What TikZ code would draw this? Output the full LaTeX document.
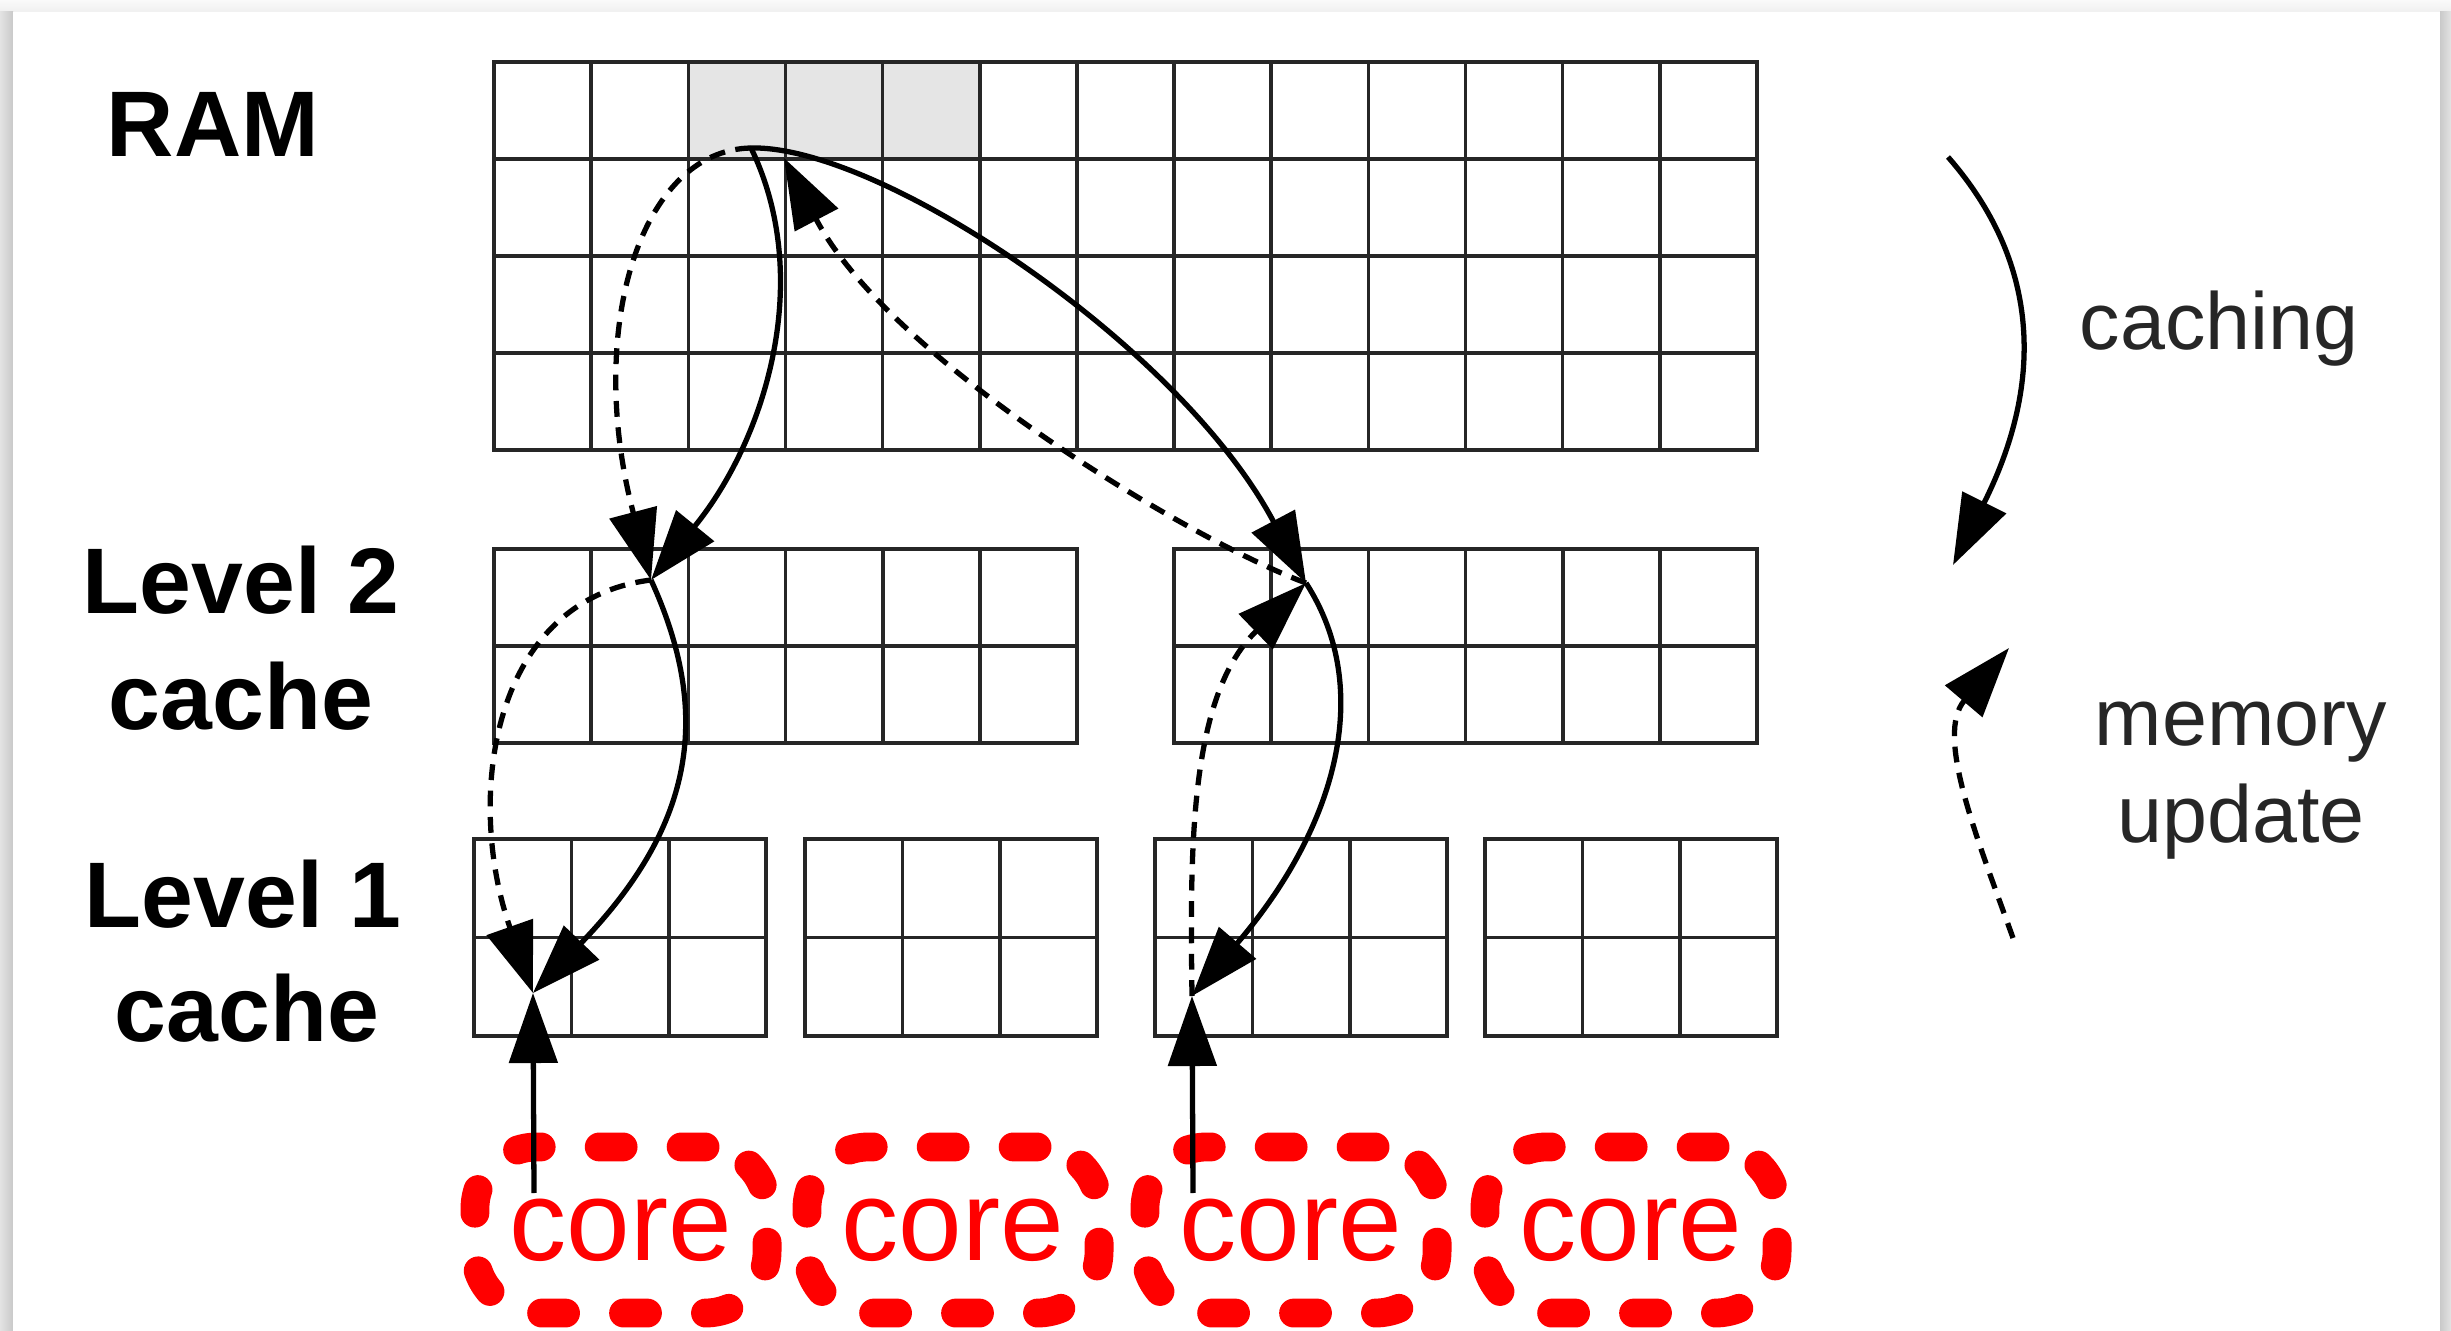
\documentclass[tikz,border=0pt]{standalone}
\usepackage{fontspec}
\setmainfont{Liberation Sans}
\usetikzlibrary{arrows.meta}
\newcommand\cellgrid[6]{% x0, y0, cols, rows, cell width, cell height
  \draw[gridline] (#1,#2) rectangle ({#1+#3*#5},{#2+#4*#6});
  \foreach \i in {1,...,#3}{\draw[gridline] ({#1+\i*#5},#2) -- ({#1+\i*#5},{#2+#4*#6});}
  \foreach \j in {1,...,#4}{\draw[gridline] (#1,{#2+\j*#6}) -- ({#1+#3*#5},{#2+\j*#6});}
}
\tikzset{
  gridline/.style={draw=black!85, line width=1pt},
  flow/.style={draw=black, line width=1.5pt, -{Triangle[length=0.7cm,width=0.48cm]}},
  upd/.style={flow, dash pattern=on 4.5pt off 3pt},
  corebox/.style={draw=red, line width=8.2pt, dash pattern=on 6.8pt off 16.5pt, line cap=round,
    rounded corners=0.62cm, minimum width=2.92cm, minimum height=1.66cm, inner sep=0pt,
    text=red, font=\fontsize{32.5}{38}\selectfont},
  lbl/.style={font=\fontsize{26.5}{31}\selectfont\bfseries, inner sep=0pt, anchor=base},
  leg/.style={font=\fontsize{23}{27}\selectfont, text=black!85, inner sep=0pt, anchor=base},
}
\begin{document}
\begin{tikzpicture}[x=0.01cm,y=-0.01cm]
\useasboundingbox (0,0) rectangle (2451,1331);
% slide background with shadow
\fill[gray!10] (0,0) rectangle (2451,1331);
\shade[top color=gray!4, bottom color=gray!12] (0,0) rectangle (2451,12);
\shade[left color=gray!22, right color=gray!42] (0,12) rectangle (13,1331);
\shade[left color=gray!42, right color=gray!22] (2440,12) rectangle (2451,1331);
\fill[white] (13,12) rectangle (2440,1331);

% RAM
\fill[gray!20] (689,62) rectangle (981,159);
\cellgrid{494}{62}{13}{4}{97.15}{97}
% Level 2 caches
\cellgrid{494}{549}{6}{2}{97.2}{97}
\cellgrid{1174}{549}{6}{2}{97.2}{97}
% Level 1 caches
\cellgrid{474}{839}{3}{2}{97.4}{98.5}
\cellgrid{805}{839}{3}{2}{97.4}{98.5}
\cellgrid{1155}{839}{3}{2}{97.4}{98.5}
\cellgrid{1485}{839}{3}{2}{97.4}{98.5}

% labels
\node[lbl] (ram) at (213,157) {RAM};
\node[lbl] (l2ta) at (241,614) {Level 2};
\node[lbl] (l2tb) at (241,730) {cache};
\node[lbl] (l1ta) at (243,927) {Level 1};
\node[lbl] (l1tb) at (247,1041) {cache};
\node[leg] (caching) at (2219,350) {caching};
\node[leg] (mema) at (2241,746) {memory};
\node[leg] (memb) at (2241,843) {update};

% cores
\node[corebox] (core1) at (621,1230) {core};
\node[corebox] (core2) at (953,1230) {core};
\node[corebox] (core3) at (1291,1230) {core};
\node[corebox] (core4) at (1631,1230) {core};

% connection points
\coordinate (ramP) at (751,148);
\coordinate (ramQ) at (784,158);
\coordinate (l2a) at (651,580);
\coordinate (l2b) at (1306,583);
\coordinate (l1a) at (533,993);
\coordinate (l1c) at (1192,996);
\coordinate (c1src) at (534,1193);
\coordinate (c3src) at (1193,1193);

% left branch
\draw[flow] (ramP) .. controls (815,280) and (765,440) .. (l2a);
\draw[upd] (ramP) .. controls (640,150) and (585,330) .. (l2a);
\draw[flow] (l2a) .. controls (715,720) and (690,830) .. (l1a);
\draw[upd] (l2a) .. controls (490,600) and (465,800) .. (l1a);
% right branch
\draw[flow] (ramP) .. controls (880,145) and (1180,345) .. (l2b);
\draw[upd] (l2b) .. controls (1190,540) and (890,360) .. (ramQ);
\draw[flow] (l2b) .. controls (1375,690) and (1336,828) .. (l1c);
\draw[upd] (l1c) .. controls (1190,850) and (1189,696) .. (l2b);
% core accesses
\draw[flow] (c1src) -- (l1a);
\draw[flow] (c3src) -- (l1c);

% legend arrows
\coordinate (legA1) at (1948,157);
\coordinate (legA2) at (1953,565);
\coordinate (legB1) at (2013,938);
\coordinate (legB2) at (2009,648);
\draw[flow] (legA1) .. controls (2038,260) and (2046,379) .. (legA2);
\draw[upd] (legB1) .. controls (1976,835) and (1935,735) .. (legB2);
\end{tikzpicture}
\end{document}
